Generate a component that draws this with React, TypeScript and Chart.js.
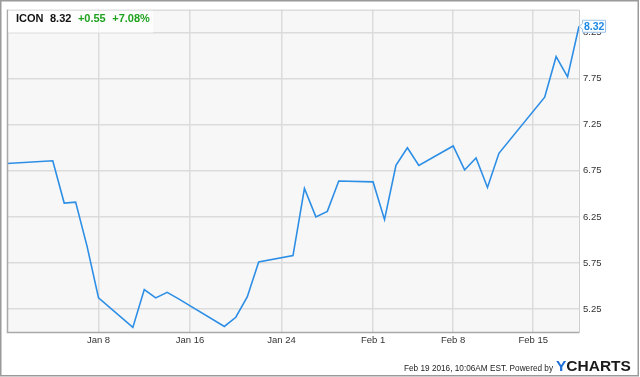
import { useEffect, useRef } from "react";
import { Chart, registerables } from "chart.js";

Chart.register(...registerables);

// ---- data ----
const dates = [
  "2015-12-31", "2016-01-04", "2016-01-05", "2016-01-06", "2016-01-07", "2016-01-08",
  "2016-01-11", "2016-01-12", "2016-01-13", "2016-01-14", "2016-01-15",
  "2016-01-19", "2016-01-20", "2016-01-21", "2016-01-22",
  "2016-01-25", "2016-01-26", "2016-01-27", "2016-01-28", "2016-01-29",
  "2016-02-01", "2016-02-02", "2016-02-03", "2016-02-04", "2016-02-05",
  "2016-02-08", "2016-02-09", "2016-02-10", "2016-02-11", "2016-02-12",
  "2016-02-16", "2016-02-17", "2016-02-18", "2016-02-19",
];
const closes = [
  6.83, 6.86, 6.40, 6.41, 5.93, 5.37,
  5.05, 5.46, 5.37, 5.43, 5.36,
  5.06, 5.16, 5.38, 5.76,
  5.83, 6.56, 6.25, 6.31, 6.64,
  6.63, 6.22, 6.81, 7.00, 6.81,
  7.02, 6.76, 6.89, 6.57, 6.94,
  7.55, 7.99, 7.77, 8.32,
];
const xTickDates = ["2016-01-08", "2016-01-16", "2016-01-24", "2016-02-01", "2016-02-08", "2016-02-15"];
const xTickLabels = ["Jan 8", "Jan 16", "Jan 24", "Feb 1", "Feb 8", "Feb 15"];
const yTicks = [5.25, 5.75, 6.25, 6.75, 7.25, 7.75, 8.25];
const ticker = "ICON";
const lastPrice = "8.32";
const change = "+0.55";
const changePct = "+7.08%";
const footerText = "Feb 19 2016, 10:06AM EST. Powered by";

const DAY = 86400000;
const toMs = (s: string) => {
  const [y, m, d] = s.split("-").map(Number);
  return Date.UTC(y, m - 1, d);
};
const start = toMs(dates[0]);
const dayOf = (s: string) => Math.round((toMs(s) - start) / DAY);

const FONT = "'Liberation Sans', Arial, sans-serif";
const LINE = "#2d8ee6";

export default function App() {
  const ref = useRef<HTMLCanvasElement | null>(null);

  useEffect(() => {
    document.body.style.margin = "0";
    const canvas = ref.current;
    if (!canvas) return;

    const points = dates.map((d, i) => ({ x: dayOf(d), y: closes[i] }));
    const xTickVals = xTickDates.map(dayOf);
    const lastDay = dayOf(dates[dates.length - 1]);

    const decor = {
      id: "decor",
      beforeDraw(chart: any) {
        const { ctx, chartArea: a } = chart;
        ctx.save();
        ctx.fillStyle = "#ffffff";
        ctx.fillRect(0, 0, chart.width, chart.height);
        ctx.fillStyle = "#f7f7f7";
        ctx.fillRect(a.left, a.top, a.right - a.left, a.bottom - a.top);
        ctx.restore();
      },
      afterDraw(chart: any) {
        const { ctx, chartArea: a } = chart;
        const ys = chart.scales.y;
        ctx.save();
        // plot border
        ctx.lineWidth = 1;
        ctx.strokeStyle = "#cfcfcf";
        ctx.beginPath();
        ctx.moveTo(a.left, a.top + 0.5);
        ctx.lineTo(a.right + 0.5, a.top + 0.5);
        ctx.lineTo(a.right + 0.5, a.bottom);
        ctx.stroke();
        ctx.lineWidth = 1.5;
        ctx.strokeStyle = "#a9a9a9";
        ctx.beginPath();
        ctx.moveTo(a.left + 0.5, a.top);
        ctx.lineTo(a.left + 0.5, a.bottom + 0.5);
        ctx.lineTo(a.right + 0.5, a.bottom + 0.5);
        ctx.stroke();

        // title box
        ctx.fillStyle = "rgba(255,255,255,0.7)";
        ctx.fillRect(a.left + 1, a.top + 1, 145, 22);
        ctx.font = `bold 11px ${FONT}`;
        ctx.textBaseline = "alphabetic";
        ctx.textAlign = "left";
        let x = 16;
        const ty = 22;
        ctx.fillStyle = "#111111";
        ctx.fillText(ticker, x, ty);
        x += ctx.measureText(ticker).width + 6.5;
        ctx.fillText(lastPrice, x, ty);
        x += ctx.measureText(lastPrice).width + 6.5;
        ctx.fillStyle = "#1ea21e";
        ctx.fillText(change, x, ty);
        x += ctx.measureText(change).width + 6.5;
        ctx.fillText(changePct, x, ty);

        // last value flag
        const ly = ys.getPixelForValue(closes[closes.length - 1]);
        const bx = a.right + 3.5;
        const bw = 23;
        const bh = 12;
        ctx.beginPath();
        ctx.moveTo(a.right + 0.5, ly);
        ctx.lineTo(bx, ly - 3);
        ctx.lineTo(bx, ly - bh / 2);
        ctx.lineTo(bx + bw, ly - bh / 2);
        ctx.lineTo(bx + bw, ly + bh / 2);
        ctx.lineTo(bx, ly + bh / 2);
        ctx.lineTo(bx, ly + 3);
        ctx.closePath();
        ctx.fillStyle = "#ffffff";
        ctx.fill();
        ctx.lineWidth = 1;
        ctx.strokeStyle = "#9cc3ea";
        ctx.stroke();
        ctx.fillStyle = "#1e88e5";
        ctx.font = `bold 10.5px ${FONT}`;
        ctx.textBaseline = "middle";
        ctx.fillText(lastPrice, bx + 1.5, ly + 0.5, bw - 2.5);

        // footer
        ctx.textBaseline = "alphabetic";
        ctx.textAlign = "right";
        ctx.fillStyle = "#222222";
        ctx.font = `9.5px ${FONT}`;
        ctx.fillText(footerText, 553, 371, 149);
        ctx.textAlign = "left";
        ctx.font = `bold 15.5px ${FONT}`;
        ctx.fillStyle = "#1b6fd6";
        ctx.fillText("Y", 556, 371);
        const yw = ctx.measureText("Y").width;
        ctx.fillStyle = "#1a1a1a";
        ctx.fillText("CHARTS", 556 + yw, 371, 75 - yw);

        // outer frame
        ctx.lineWidth = 1.5;
        ctx.strokeStyle = "#9a9a9a";
        ctx.strokeRect(0.75, 0.75, 637.5, 375);
        ctx.restore();
      },
    };

    const chart = new Chart(canvas, {
      type: "line",
      data: {
        datasets: [
          {
            data: points,
            borderColor: LINE,
            borderWidth: 1.6,
            pointRadius: 0,
            pointHoverRadius: 0,
            tension: 0,
            fill: false,
          },
        ],
      },
      options: {
        animation: false,
        responsive: false,
        maintainAspectRatio: false,
        devicePixelRatio: 1,
        events: [],
        layout: { padding: { left: 7, top: 7, right: 0, bottom: 0 } },
        plugins: { legend: { display: false }, tooltip: { enabled: false } },
        scales: {
          x: {
            type: "linear",
            position: "bottom",
            min: 0,
            max: lastDay,
            grid: { color: "#dcdcdc", lineWidth: 1.5, drawTicks: false },
            border: { display: false },
            ticks: {
              padding: 3,
              autoSkip: false,
              maxRotation: 0,
              color: "#333333",
              font: { family: FONT, size: 9.5 },
              callback: (v: any) => {
                const i = xTickVals.indexOf(Number(v));
                return i >= 0 ? xTickLabels[i] : "";
              },
            },
            afterBuildTicks: (s: any) => {
              s.ticks = xTickVals.map((v) => ({ value: v }));
            },
            afterFit: (s: any) => {
              s.height = 45;
            },
          },
          y: {
            type: "linear",
            position: "right",
            min: 5.0,
            max: 8.5,
            grid: { color: "#dcdcdc", lineWidth: 1.5, drawTicks: false },
            border: { display: false },
            ticks: {
              padding: 4,
              color: "#333333",
              font: { family: FONT, size: 9.5 },
              callback: (v: any) => Number(v).toFixed(2),
            },
            afterBuildTicks: (s: any) => {
              s.ticks = yTicks.map((v) => ({ value: v }));
            },
            afterFit: (s: any) => {
              s.width = 61;
            },
          },
        },
      },
      plugins: [decor],
    });

    return () => chart.destroy();
  }, []);

  return (
    <div style={{ width: 640, height: 377 }}>
      <canvas ref={ref} width={640} height={377} style={{ display: "block" }} />
    </div>
  );
}
